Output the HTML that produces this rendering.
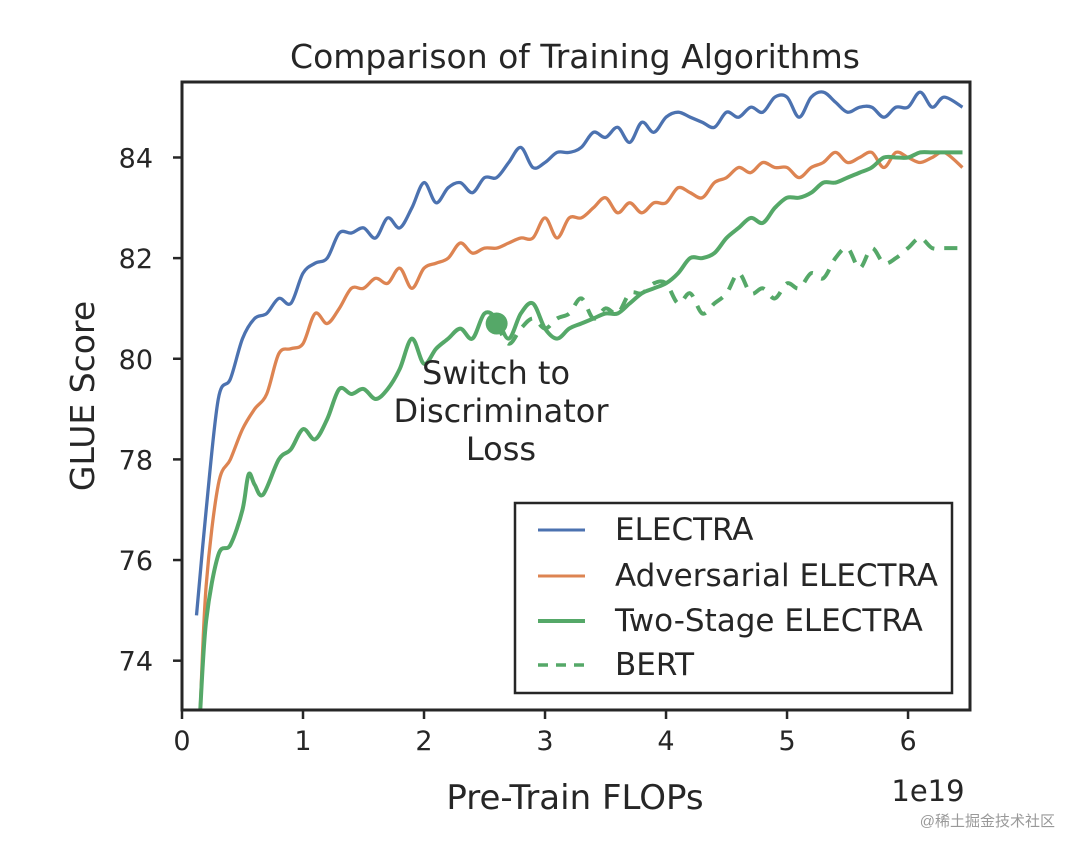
<!DOCTYPE html>
<html><head><meta charset="utf-8"><style>
html,body{margin:0;padding:0;background:#fff;}
svg{display:block;font-family:"DejaVu Sans","Liberation Sans",sans-serif;}
</style></head><body>
<svg id="chart" width="1079" height="853" viewBox="0 0 1079 853">
<text x="575" y="68" font-size="33" fill="#262626" text-anchor="middle">Comparison of Training Algorithms</text>
<g id="ticks"></g>
<g id="series"></g>
<rect x="182" y="82" width="788" height="628" fill="none" stroke="#262626" stroke-width="3"/>
<text x="575" y="809" font-size="34" fill="#262626" text-anchor="middle">Pre-Train FLOPs</text>
<text x="928" y="801" font-size="29" fill="#262626" text-anchor="middle">1e19</text>
<text transform="translate(94,396) rotate(-90)" font-size="33" fill="#262626" text-anchor="middle">GLUE Score</text>
<g font-size="32" fill="#262626" text-anchor="middle">
<text x="496" y="384">Switch to</text>
<text x="501" y="422">Discriminator</text>
<text x="501" y="460">Loss</text>
</g>
<g>
<rect x="515" y="503" width="437" height="190" fill="#fff" stroke="#262626" stroke-width="2.5"/>
<line x1="538" y1="530" x2="585" y2="530" stroke="#4c72b0" stroke-width="3"/>
<text x="615" y="540" font-size="31" fill="#262626">ELECTRA</text>
<line x1="538" y1="576" x2="585" y2="576" stroke="#dd8452" stroke-width="3"/>
<text x="615" y="586" font-size="31" fill="#262626">Adversarial ELECTRA</text>
<line x1="538" y1="621" x2="585" y2="621" stroke="#55a868" stroke-width="4"/>
<text x="615" y="631" font-size="31" fill="#262626">Two-Stage ELECTRA</text>
<line x1="538" y1="665" x2="585" y2="665" stroke="#55a868" stroke-width="3.5" stroke-dasharray="10,8"/>
<text x="615" y="675" font-size="31" fill="#262626">BERT</text>
</g>
<text x="1055" y="826" font-size="15" fill="#999" text-anchor="end" font-family="'Liberation Sans','Noto Sans CJK SC',sans-serif">@稀土掘金技术社区</text>
</svg>
<script>
const xTicks=[0,1,2,3,4,5,6];
const yTicks=[74,76,78,80,82,84];
const electraX=[0.12,0.2,0.3,0.4,0.5,0.6,0.7,0.8,0.9,1.0,1.1,1.2,1.3,1.4,1.5,1.6,1.7,1.8,1.9,2.0,2.1,2.2,2.3,2.4,2.5,2.6,2.7,2.8,2.9,3.0,3.1,3.2,3.3,3.4,3.5,3.6,3.7,3.8,3.9,4.0,4.1,4.2,4.3,4.4,4.5,4.6,4.7,4.8,4.9,5.0,5.1,5.2,5.3,5.4,5.5,5.6,5.7,5.8,5.9,6.0,6.1,6.2,6.3,6.45];
const electraY=[74.9,77,79.2,79.6,80.4,80.8,80.9,81.2,81.1,81.7,81.9,82.0,82.5,82.5,82.6,82.4,82.8,82.6,83.0,83.5,83.1,83.4,83.5,83.3,83.6,83.6,83.9,84.2,83.8,83.9,84.1,84.1,84.2,84.5,84.4,84.6,84.3,84.7,84.5,84.8,84.9,84.8,84.7,84.6,84.9,84.8,85.0,84.9,85.2,85.2,84.8,85.2,85.3,85.1,84.9,85.0,85.0,84.8,85.0,85.0,85.3,85.0,85.2,85.0];
const advX=[0.15,0.2,0.3,0.4,0.5,0.6,0.7,0.8,0.9,1.0,1.1,1.2,1.3,1.4,1.5,1.6,1.7,1.8,1.9,2.0,2.1,2.2,2.3,2.4,2.5,2.6,2.7,2.8,2.9,3.0,3.1,3.2,3.3,3.4,3.5,3.6,3.7,3.8,3.9,4.0,4.1,4.2,4.3,4.4,4.5,4.6,4.7,4.8,4.9,5.0,5.1,5.2,5.3,5.4,5.5,5.6,5.7,5.8,5.9,6.0,6.1,6.2,6.3,6.45];
const advY=[73.0,75.5,77.5,78.0,78.6,79.0,79.3,80.1,80.2,80.3,80.9,80.7,81.0,81.4,81.4,81.6,81.5,81.8,81.4,81.8,81.9,82.0,82.3,82.1,82.2,82.2,82.3,82.4,82.4,82.8,82.4,82.8,82.8,83.0,83.2,82.9,83.1,82.9,83.1,83.1,83.4,83.3,83.2,83.5,83.6,83.8,83.7,83.9,83.8,83.8,83.6,83.8,83.9,84.1,83.9,84.0,84.1,83.8,84.1,84.0,83.9,84.0,84.1,83.8];
const twoX=[0.15,0.2,0.3,0.4,0.5,0.55,0.6,0.67,0.8,0.9,1.0,1.1,1.2,1.3,1.4,1.5,1.6,1.7,1.8,1.9,2.0,2.1,2.2,2.3,2.4,2.5,2.6,2.7,2.8,2.9,3.0,3.1,3.2,3.3,3.4,3.5,3.6,3.7,3.8,3.9,4.0,4.1,4.2,4.3,4.4,4.5,4.6,4.7,4.8,4.9,5.0,5.1,5.2,5.3,5.4,5.5,5.6,5.7,5.8,5.9,6.0,6.1,6.2,6.3,6.45];
const twoY=[73.0,74.8,76.1,76.3,77.0,77.7,77.5,77.3,78.0,78.2,78.6,78.4,78.8,79.4,79.3,79.4,79.2,79.4,79.8,80.4,79.9,80.2,80.4,80.6,80.4,80.9,80.8,80.4,80.9,81.1,80.6,80.4,80.6,80.7,80.8,80.9,80.9,81.1,81.3,81.4,81.5,81.7,82.0,82.0,82.1,82.4,82.6,82.8,82.7,83.0,83.2,83.2,83.3,83.5,83.5,83.6,83.7,83.8,84.0,84.0,84.0,84.1,84.1,84.1,84.1];
const bertX=[2.6,2.7,2.8,2.9,3.0,3.1,3.2,3.3,3.4,3.5,3.6,3.7,3.8,3.9,4.0,4.1,4.2,4.3,4.4,4.5,4.6,4.7,4.8,4.9,5.0,5.1,5.2,5.3,5.4,5.5,5.6,5.7,5.8,5.9,6.0,6.1,6.2,6.3,6.45];
const bertY=[80.7,80.3,80.6,80.8,80.6,80.8,80.9,81.2,80.8,81.0,80.9,81.3,81.3,81.5,81.5,81.1,81.3,80.9,81.1,81.3,81.7,81.3,81.4,81.2,81.5,81.4,81.7,81.6,82.0,82.2,81.8,82.2,81.9,82.0,82.2,82.4,82.2,82.2,82.2];
const switchX=[2.6];
const switchY=[80.7];

const NS="http://www.w3.org/2000/svg";
const X0=182,X1=970,Y0=710,Y1=82;
const xmin=0,xmax=6.512,ymin=73.02,ymax=85.5;
function sx(v){return X0+(v-xmin)/(xmax-xmin)*(X1-X0);}
function sy(v){return Y0-(v-ymin)/(ymax-ymin)*(Y0-Y1);}
function mk(tag,attrs,parent){const e=document.createElementNS(NS,tag);for(const k in attrs)e.setAttribute(k,attrs[k]);parent.appendChild(e);return e;}
const tg=document.getElementById('ticks');
xTicks.forEach(t=>{
  const l=mk('line',{x1:sx(t),x2:sx(t),y1:Y0,y2:Y0+9,stroke:'#262626','stroke-width':2.5},tg);
  
  
  const tx=mk('text',{x:sx(t),y:Y0+40,'font-size':27,fill:'#262626','text-anchor':'middle'},tg);
  tx.textContent=t;
  
  
});
yTicks.forEach(t=>{
  const l=mk('line',{x1:X0-9,x2:X0,y1:sy(t),y2:sy(t),stroke:'#262626','stroke-width':2.5},tg);
  
  
  const tx=mk('text',{x:X0-29,y:sy(t)+10,'font-size':27,fill:'#262626','text-anchor':'end'},tg);
  tx.textContent=t;
  
  
});
const sg=document.getElementById('series');
const clip=mk('clipPath',{id:'pc'},mk('defs',{},sg));
mk('rect',{x:X0,y:Y1,width:X1-X0,height:Y0-Y1},clip);
function smoothPath(p){
  let d='M'+p[0][0].toFixed(1)+','+p[0][1].toFixed(1);
  for(let i=0;i<p.length-1;i++){
    const p0=p[Math.max(0,i-1)],p1=p[i],p2=p[i+1],p3=p[Math.min(p.length-1,i+2)];
    const c1x=p1[0]+(p2[0]-p0[0])/6,c1y=p1[1]+(p2[1]-p0[1])/6;
    const c2x=p2[0]-(p3[0]-p1[0])/6,c2y=p2[1]-(p3[1]-p1[1])/6;
    d+=' C'+c1x.toFixed(1)+','+c1y.toFixed(1)+' '+c2x.toFixed(1)+','+c2y.toFixed(1)+' '+p2[0].toFixed(1)+','+p2[1].toFixed(1);
  }
  return d;
}
function line(xs,ys,color,w,dash,name){
  const pts=xs.map((x,i)=>[sx(x),sy(ys[i])]);
  const a={d:smoothPath(pts),fill:'none',stroke:color,'stroke-width':w,'stroke-linejoin':'round','clip-path':'url(#pc)'};
  if(dash)a['stroke-dasharray']=dash;
  const p=mk('path',a,sg);
  
  
}
line(bertX,bertY,'#55a868',4,'13,10','bert-line');
line(advX,advY,'#dd8452',3.3,null,'adversarial-electra-line');
line(electraX,electraY,'#4c72b0',3.3,null,'electra-line');
line(twoX,twoY,'#55a868',4,null,'two-stage-electra-line');
const dot=mk('circle',{cx:sx(switchX[0]),cy:sy(switchY[0]),r:11,fill:'#55a868'},sg);


</script>
</body></html>
